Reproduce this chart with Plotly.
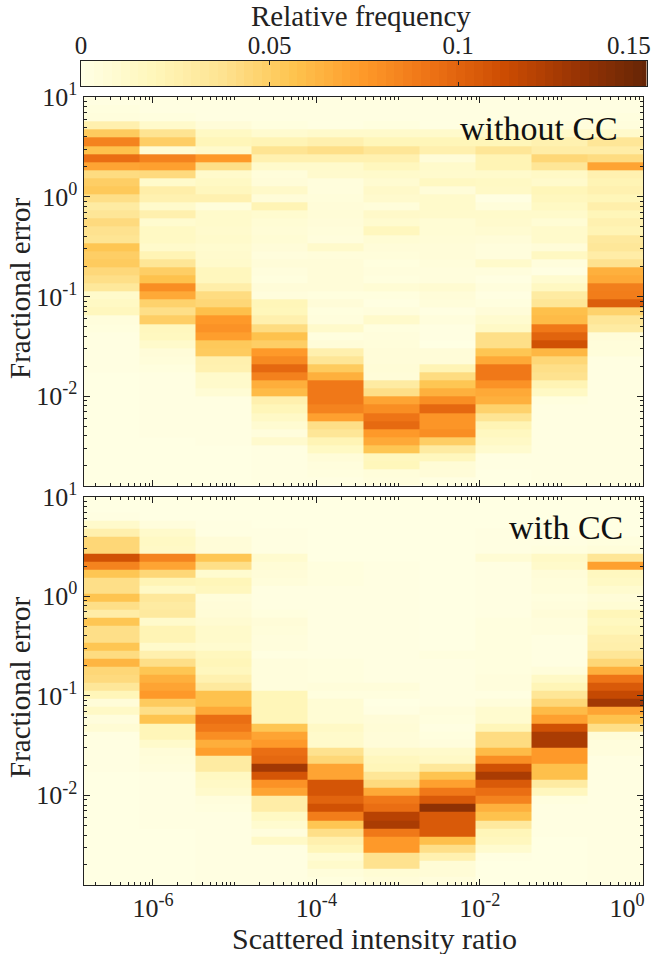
import numpy as np
import plotly.graph_objects as go

# Histogram bins: columns are scattered intensity ratio, rows are fractional error (top row first)
x_exponents = [-6.85, -6.165, -5.48, -4.795, -4.11, -3.425, -2.74, -2.055, -1.37, -0.685, 0.0]
y_exponent_top, y_exponent_bottom, n_rows = 1.0, -2.9, 48

# Relative frequency, one list per column, without CC
wo_c0 = [.002,.003,.004,.025,.052,.085,.057,.095,.07,.042,.05,.053,.04,.03,.035,.043,.038,.036,.055,.05,.052,.044,.04,.033,.012,.015,.018,.004,.003,.002,.002,.002,.002,.002,.001,.001,.001,.001,.001,.001,.001,.001,.001,.001,.001,.001,.001,.001]
wo_c1 = [.002,.002,.003,.012,.037,.05,.008,.085,.072,.043,.012,.027,.024,.012,.025,.01,.015,.015,.012,.022,.035,.05,.057,.08,.068,.048,.04,.05,.018,.017,.012,.006,.005,.003,.002,.002,.002,.002,.002,.002,.002,.002,.001,.001,.001,.001,.001,.001]
wo_c2 = [.002,.002,.002,.006,.015,.02,.012,.075,.04,.012,.015,.018,.024,.005,.012,.012,.011,.012,.01,.011,.012,.018,.018,.027,.042,.045,.058,.075,.078,.073,.053,.052,.025,.024,.012,.012,.008,.002,.002,.002,.002,.002,.002,.001,.001,.001,.001,.001]
wo_c3 = [.002,.002,.002,.003,.01,.022,.037,.024,.012,.005,.006,.013,.006,.022,.01,.008,.007,.008,.006,.004,.006,.004,.003,.006,.004,.02,.019,.025,.042,.057,.05,.075,.082,.098,.086,.066,.06,.025,.02,.014,.009,.004,.011,.002,.002,.002,.002,.002]
wo_c4 = [.002,.002,.002,.002,.012,.025,.04,.024,.012,.011,.004,.004,.005,.006,.007,.006,.005,.004,.012,.005,.006,.006,.006,.006,.003,.006,.003,.004,.012,.003,.006,.025,.035,.052,.065,.09,.09,.09,.085,.072,.04,.035,.022,.015,.006,.004,.003,.002]
wo_c5 = [.002,.002,.002,.003,.012,.02,.035,.024,.018,.012,.009,.013,.011,.005,.013,.01,.018,.008,.006,.005,.003,.004,.003,.008,.003,.002,.004,.012,.003,.004,.005,.006,.006,.007,.006,.03,.04,.07,.08,.092,.097,.075,.068,.055,.018,.019,.005,.004]
wo_c6 = [.002,.002,.002,.002,.012,.02,.025,.006,.012,.011,.016,.006,.012,.012,.012,.008,.008,.007,.006,.006,.005,.004,.004,.009,.006,.005,.002,.004,.002,.002,.001,.006,.006,.022,.042,.055,.065,.08,.098,.077,.077,.08,.05,.03,.018,.007,.006,.002]
wo_c7 = [.002,.002,.002,.003,.012,.02,.035,.022,.022,.012,.015,.014,.002,.005,.012,.011,.009,.006,.004,.004,.012,.004,.002,.004,.002,.003,.006,.01,.014,.04,.04,.055,.068,.09,.09,.078,.068,.065,.048,.036,.022,.017,.014,.01,.002,.002,.001,.001]
wo_c8 = [.002,.002,.002,.004,.012,.024,.028,.045,.035,.014,.012,.02,.018,.015,.012,.008,.012,.012,.006,.016,.004,.002,.01,.016,.03,.035,.058,.06,.09,.1,.11,.062,.045,.04,.038,.022,.015,.003,.002,.002,.002,.002,.002,.002,.002,.002,.002,.002]
wo_c9 = [.002,.002,.003,.004,.012,.035,.028,.042,.07,.024,.022,.024,.02,.026,.02,.024,.022,.032,.034,.028,.038,.065,.068,.087,.088,.103,.048,.035,.03,.006,.005,.005,.002,.002,.002,.002,.002,.002,.002,.002,.002,.002,.002,.002,.002,.002,.002,.002]

# Relative frequency, one list per column, with CC
wi_c0 = [.001,.001,.002,.012,.025,.045,.045,.11,.085,.055,.04,.04,.056,.04,.028,.055,.04,.04,.055,.042,.063,.045,.043,.034,.02,.006,.014,.004,.008,.002,.002,.002,.002,.002,.001,.001,.001,.001,.001,.001,.001,.001,.001,.001,.001,.001,.001,.001]
wi_c1 = [.001,.001,.001,.004,.012,.015,.014,.085,.07,.045,.022,.014,.033,.03,.032,.012,.022,.022,.012,.025,.04,.055,.065,.07,.075,.052,.04,.056,.02,.02,.012,.006,.005,.004,.002,.002,.002,.002,.002,.002,.002,.001,.001,.001,.001,.001,.001,.001]
wi_c2 = [.001,.001,.001,.002,.002,.006,.006,.055,.04,.01,.02,.018,.005,.006,.007,.009,.012,.012,.01,.018,.02,.018,.024,.032,.057,.057,.068,.095,.09,.08,.066,.073,.03,.03,.016,.014,.012,.004,.003,.002,.002,.002,.002,.002,.002,.002,.002,.002]
wi_c3 = [.001,.001,.001,.001,.002,.002,.002,.01,.007,.006,.005,.002,.002,.002,.003,.006,.005,.004,.004,.002,.004,.004,.004,.004,.02,.02,.02,.02,.055,.07,.075,.095,.098,.128,.108,.078,.07,.028,.028,.015,.01,.004,.014,.002,.002,.002,.002,.002]
wi_c4 = [.001,.001,.001,.001,.001,.001,.001,.001,.003,.003,.003,.002,.002,.002,.002,.002,.002,.002,.002,.002,.003,.003,.003,.005,.003,.008,.008,.008,.014,.012,.012,.038,.045,.07,.07,.108,.108,.1,.11,.088,.055,.04,.025,.02,.008,.012,.005,.003]
wi_c5 = [.001,.001,.001,.001,.001,.001,.001,.001,.002,.002,.002,.002,.002,.002,.002,.002,.002,.002,.002,.002,.002,.002,.002,.005,.003,.001,.002,.006,.007,.006,.006,.013,.018,.02,.035,.043,.068,.09,.095,.12,.125,.09,.075,.075,.038,.038,.008,.006]
wi_c6 = [.001,.001,.001,.001,.001,.001,.001,.001,.001,.001,.001,.001,.001,.001,.001,.001,.001,.001,.001,.003,.002,.002,.002,.002,.002,.002,.004,.003,.002,.003,.004,.012,.014,.033,.056,.072,.09,.105,.135,.105,.105,.105,.058,.04,.024,.007,.007,.004]
wi_c7 = [.001,.001,.001,.001,.002,.002,.002,.008,.002,.002,.002,.002,.002,.002,.002,.003,.003,.003,.003,.003,.003,.003,.004,.004,.002,.005,.01,.01,.02,.042,.042,.06,.08,.11,.125,.105,.095,.085,.065,.057,.032,.02,.018,.01,.002,.001,.001,.001]
wi_c8 = [.001,.001,.001,.001,.001,.002,.003,.014,.012,.006,.005,.005,.003,.004,.006,.004,.004,.002,.002,.002,.002,.005,.014,.021,.035,.045,.06,.072,.11,.125,.125,.075,.075,.058,.058,.03,.018,.003,.002,.002,.002,.002,.001,.001,.001,.001,.001,.001]
wi_c9 = [.001,.001,.001,.001,.001,.003,.005,.035,.072,.017,.015,.01,.006,.008,.02,.017,.02,.025,.026,.035,.045,.065,.092,.105,.115,.128,.07,.057,.04,.006,.004,.004,.002,.002,.002,.002,.002,.002,.002,.002,.002,.002,.002,.002,.002,.002,.002,.002]

without_cc = [wo_c0, wo_c1, wo_c2, wo_c3, wo_c4, wo_c5, wo_c6, wo_c7, wo_c8, wo_c9]
with_cc = [wi_c0, wi_c1, wi_c2, wi_c3, wi_c4, wi_c5, wi_c6, wi_c7, wi_c8, wi_c9]

x_tick_vals = [1e-6, 1e-4, 1e-2, 1]
x_tick_text = ["10<sup>-6</sup>", "10<sup>-4</sup>", "10<sup>-2</sup>", "10<sup>0</sup>" + "\u00a0" * 5]
y_tick_vals = [10, 1, 0.1, 0.01]
y_tick_text = ["10<sup>1</sup>", "10<sup>0</sup>", "10<sup>-1</sup>", "10<sup>-2</sup>"]
cbar_tick_vals = [0, 0.05, 0.1, 0.15]
cbar_tick_text = ["0", "0.05", "0.1", ""]
cbar_last_label = "0.15"
cbar_levels = np.linspace(0, 0.15, 65)

# Styling
W, H = 651, 954
FONT = "Liberation Serif"
INK = "#222222"
colorscale = [[0, "#FFFFE5"], [.125, "#FFF7BC"], [.25, "#FEE391"], [.375, "#FEC44F"], [.5, "#FE9929"],
              [.625, "#EC7014"], [.75, "#CC4C02"], [.875, "#993404"], [1, "#662506"]]

x_edges = [10.0 ** e for e in x_exponents]
y_edges = 10.0 ** np.linspace(y_exponent_top, y_exponent_bottom, n_rows + 1)
minor_x = [m * 10.0 ** d for d in range(-7, 1) for m in range(1, 10)]
minor_x = [v for v in minor_x if 10 ** -6.85 <= v <= 1 and v not in x_tick_vals]
minor_y = [m * 10.0 ** d for d in range(-3, 1) for m in range(1, 10)]
minor_y = [v for v in minor_y if 10 ** -2.9 <= v <= 10 and v not in y_tick_vals]

fig = go.Figure()
panels = [
    (without_cc, "x", "y", (97.3, 485.7)),
    (with_cc, "x2", "y2", (496.7, 885.0)),
]
for cols, xa, ya, _ in panels:
    fig.add_trace(go.Heatmap(
        x=x_edges, y=y_edges, z=np.array(cols).T.tolist(), xaxis=xa, yaxis=ya,
        zmin=0, zmax=0.15, colorscale=colorscale, showscale=False, hoverongaps=False))
fig.add_trace(go.Heatmap(
    x=cbar_levels.tolist(), y=[0, 1], z=[cbar_levels.tolist()], xaxis="x3", yaxis="y3",
    zmin=0, zmax=0.15, colorscale=colorscale, showscale=False))


def dom_y(top, bottom):
    return [1 - bottom / H, 1 - top / H]


common = dict(automargin=False, showline=True, linecolor=INK, linewidth=1, mirror="ticks", ticks="inside",
              tickcolor=INK, showgrid=False, zeroline=False,
              tickfont=dict(family=FONT, size=26, color=INK))
x_common = dict(common, type="log", range=[-6.85, 0], domain=[83.5 / W, 643.3 / W],
                tickmode="array", tickvals=x_tick_vals, ticktext=x_tick_text, ticklen=6, tickwidth=1,
                tickangle=0, ticklabeloverflow="allow",
                minor=dict(tickmode="array", tickvals=minor_x, ticks="inside", ticklen=3, tickcolor=INK, tickwidth=1))
y_common = dict(common, type="log", range=[-2.9, 1],
                tickmode="array", tickvals=y_tick_vals, ticktext=y_tick_text, ticklen=6, tickwidth=1,
                minor=dict(tickmode="array", tickvals=minor_y, ticks="inside", ticklen=3, tickcolor=INK, tickwidth=1))


def label(text, x, y, size, xanchor="center", angle=0, color=INK):
    return dict(text=text, x=x / W, y=1 - y / H, xref="paper", yref="paper", showarrow=False,
                xanchor=xanchor, yanchor="middle", textangle=angle,
                font=dict(family=FONT, size=size, color=color))


fig.update_layout(
    width=W, height=H, margin=dict(l=0, r=0, t=0, b=0), paper_bgcolor="white", plot_bgcolor="#FFFFE5",
    showlegend=False, font=dict(family=FONT, color=INK),
    xaxis=dict(x_common, anchor="y", showticklabels=False),
    yaxis=dict(y_common, anchor="x", domain=dom_y(*panels[0][3])),
    xaxis2=dict(x_common, anchor="y2"),
    yaxis2=dict(y_common, anchor="x2", domain=dom_y(*panels[1][3])),
    xaxis3=dict(common, anchor="y3", side="top", range=[0, 0.15], domain=[81 / W, 646.5 / W],
                tickmode="array", tickvals=cbar_tick_vals, ticktext=cbar_tick_text, ticklen=4,
                tickangle=0, ticklabeloverflow="allow", ticklabelstandoff=-4,
                tickfont=dict(family=FONT, size=25, color=INK)),
    yaxis3=dict(automargin=False, anchor="x3", range=[0, 1], domain=dom_y(61, 86), showticklabels=False, ticks="",
                showline=True, linecolor=INK, linewidth=1, mirror=True, showgrid=False, zeroline=False),
    annotations=[
        label("Relative frequency", 361, 16, 29),
        label(cbar_last_label, 629, 46, 25),
        label("Fractional error", 20, 288, 29, angle=-90),
        label("Fractional error", 20, 687, 29, angle=-90),
        label("Scattered intensity ratio", 375, 938, 30),
        label("without CC", 620, 128, 34, xanchor="right", color="#111111"),
        label("with CC", 625, 527, 34, xanchor="right", color="#111111"),
    ],
)

fig.write_html("out.html", config={"displayModeBar": False}, post_script="document.body.style.margin='0';")
